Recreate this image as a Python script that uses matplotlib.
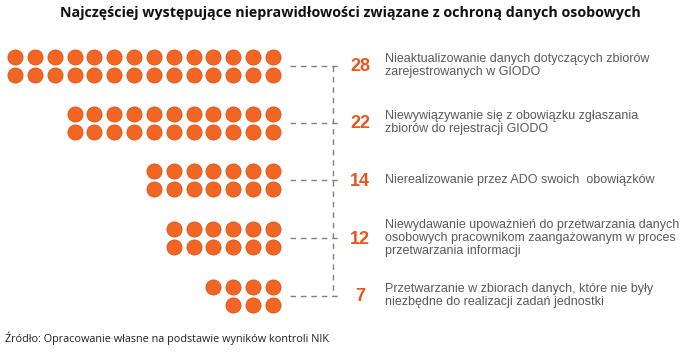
import matplotlib
matplotlib.use("Agg")
import matplotlib.pyplot as plt
import numpy as np

counts = [28, 22, 14, 12, 7]
labels = [
    "Nieaktualizowanie danych dotyczących zbiorów\nzarejestrowanych w GIODO",
    "Niewywiązywanie się z obowiązku zgłaszania\nzbiorów do rejestracji GIODO",
    "Nierealizowanie przez ADO swoich  obowiązków",
    "Niewydawanie upoważnień do przetwarzania danych\nosobowych pracownikom zaangażowanym w proces\nprzetwarzania informacji",
    "Przetwarzanie w zbiorach danych, które nie były\nniezbędne do realizacji zadań jednostki",
]
title = "Najczęściej występujące nieprawidłowości związane z ochroną danych osobowych"
source = "Źródło: Opracowanie własne na podstawie wyników kontroli NIK"

ORANGE = "#F26522"
EDGE = "#D9551A"
NUM = "#E8561C"
GRAY = "#5a5a5a"
DASH = "#808080"

W, H = 699, 353
fig = plt.figure(figsize=(W / 100, H / 100), dpi=100)
ax = fig.add_axes([0, 0, 1, 1])
ax.set_xlim(0, W)
ax.set_ylim(H, 0)
ax.axis("off")

right_x = 273
step = 19.85
group_y = [65.5, 122.5, 180, 238, 295.5]
row_off = 9.0

for n, gy in zip(counts, group_y):
    top = int(np.ceil(n / 2))
    bot = n - top
    xs = [right_x - i * step for i in range(top)] + [right_x - i * step for i in range(bot)]
    ys = [gy - row_off] * top + [gy + row_off] * bot
    ax.scatter(xs, ys, s=118, color=ORANGE, edgecolors=EDGE, linewidths=0.6, zorder=3)

vx = 333
dash_kw = dict(color=DASH, lw=1.0, linestyle=(0, (4, 3.5)))
for n, gy in zip(counts, group_y):
    ax.plot([290, vx + 5], [gy, gy], **dash_kw)
ax.plot([vx, vx], [group_y[0], group_y[-1]], **dash_kw)

for n, gy, lab in zip(counts, group_y, labels):
    ax.text(360, gy + 1, str(n), ha="center", va="center", fontsize=13,
            fontweight="bold", color=NUM, family="Liberation Sans")
    ax.text(385, gy, lab, ha="left", va="center", fontsize=9.0,
            color=GRAY, family="Liberation Sans", linespacing=1.1)

ax.text(350, 13, title, ha="center", va="center", fontsize=10.3,
        fontweight="bold", color="#111111", family="Open Sans")
ax.text(5, 338, source, ha="left", va="center", fontsize=7.8,
        color="#222222", family="Open Sans")

fig.savefig("out.png", dpi=100)
